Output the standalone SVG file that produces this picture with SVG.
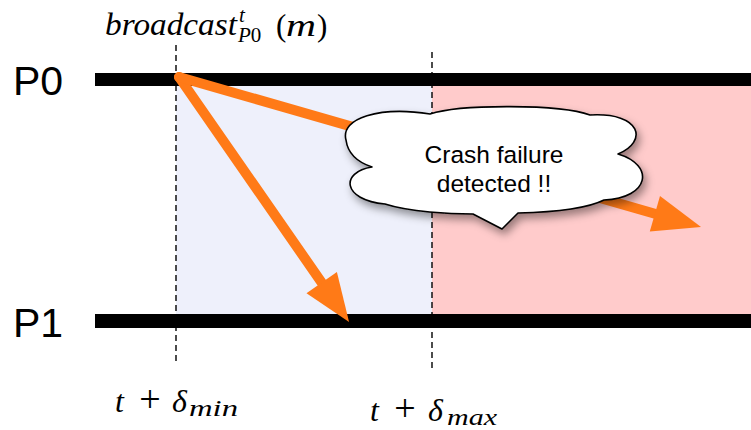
<svg xmlns="http://www.w3.org/2000/svg" width="751" height="430" viewBox="0 0 751 430">
<style>
.proc{font-family:"Liberation Sans",Arial,sans-serif;font-size:41px;fill:#000}
.math{font-family:"Liberation Serif","Times New Roman",serif;font-style:italic;fill:#000}
.up{font-family:"Liberation Serif","Times New Roman",serif;font-style:normal;fill:#000}
.dash{stroke:#000;stroke-width:1.4;stroke-dasharray:6 4;fill:none}
.arrow{stroke:#ff7a17;stroke-width:10;fill:none;stroke-linecap:round}
.msg{font-family:"Liberation Sans",Arial,sans-serif;font-size:24.5px;fill:#000;text-anchor:middle}
</style>
<defs>
<marker id="head" markerUnits="userSpaceOnUse" markerWidth="49" markerHeight="38" refX="0" refY="18.5" orient="auto" overflow="visible">
<path d="M0,0 L48,18.5 L0,37 z" fill="#ff7a17"/>
</marker>
<filter id="shadow" x="-20%" y="-20%" width="140%" height="150%">
<feDropShadow dx="3" dy="5" stdDeviation="4" flood-color="#000" flood-opacity="0.4"/>
</filter>
</defs>
<g id="regions">
<rect x="176" y="86" width="256" height="228" fill="#eef0fb"/>
<rect x="432" y="86" width="319" height="228" fill="#ffcbcb"/>
</g>
<g id="markers">
<line class="dash" x1="176" y1="45" x2="176" y2="364"/>
<line class="dash" x1="432" y1="52" x2="432" y2="370"/>
</g>
<g id="P0">
<rect x="95" y="73" width="656" height="13" fill="#000"/>
<text class="proc" x="13" y="95">P0</text>
</g>
<g id="P1">
<rect x="95" y="314" width="656" height="14" fill="#000"/>
<text class="proc" x="13" y="337">P1</text>
</g>
<g id="connectors">
<line class="arrow" x1="179" y1="77" x2="321.7" y2="282.6" marker-end="url(#head)"/>
<line class="arrow" x1="179" y1="77" x2="654.9" y2="213.7" marker-end="url(#head)"/>
</g>
<g id="cloud">
<path filter="url(#shadow)" fill="#fff" stroke="#000" stroke-width="1.6" stroke-linejoin="round" d="M372,167 C340,172 342,200 385,204 C410,212 450,214 473,214 L502,229 L518,213 C560,212 590,207 604,200 C650,198 655,165 618,154 C648,142 642,112 590,115 C560,104 460,104 430,114 C380,106 340,118 346,140 C348,155 360,163 372,167 z"/>
<text class="msg" x="494" y="163">Crash failure</text>
<text class="msg" x="494" y="192">detected !!</text>
</g>
<g id="labels">
<text class="math" font-size="31"><tspan x="105" y="35" textLength="132" lengthAdjust="spacingAndGlyphs">broadcast</tspan><tspan x="239" y="22" font-size="21">t</tspan><tspan x="238" y="42" font-size="21">P</tspan><tspan class="up" font-size="21">0</tspan><tspan class="up" x="276" y="36">(</tspan><tspan x="286" textLength="30" lengthAdjust="spacingAndGlyphs">m</tspan><tspan class="up" x="317">)</tspan></text>
<text class="math" font-size="32"><tspan x="115" y="412">t</tspan><tspan class="up" x="150" font-size="38" text-anchor="middle">+</tspan><tspan x="172">δ</tspan><tspan x="189" y="416" font-size="23" textLength="49" lengthAdjust="spacingAndGlyphs">min</tspan></text>
<text class="math" font-size="32"><tspan x="370" y="421">t</tspan><tspan class="up" x="405" font-size="38" text-anchor="middle">+</tspan><tspan x="428">δ</tspan><tspan x="447" y="425" font-size="23" textLength="50" lengthAdjust="spacingAndGlyphs">max</tspan></text>
</g>
</svg>
